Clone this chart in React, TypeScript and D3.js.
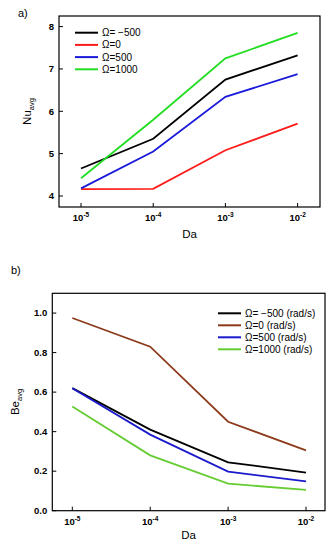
import * as d3 from 'd3';

// Darcy number exponents (10^x)
const daExponents = [-5, -4, -3, -2];

// panel a) Nu_avg
const nuTicks = [4, 5, 6, 7, 8];
const nuSeries = [
  { label: 'Ω= −500', color: '#000000', values: [4.65, 5.35, 6.75, 7.32] },
  { label: 'Ω=0', color: '#ff1a1a', values: [4.16, 4.17, 5.08, 5.71] },
  { label: 'Ω=500', color: '#1a1adb', values: [4.18, 5.05, 6.34, 6.88] },
  { label: 'Ω=1000', color: '#22dd22', values: [4.42, 5.8, 7.25, 7.85] },
];

// panel b) Be_avg
const beTicks = [0, 0.2, 0.4, 0.6, 0.8, 1.0];
const beSeries = [
  { label: 'Ω= −500 (rad/s)', color: '#000000', values: [0.62, 0.41, 0.245, 0.193] },
  { label: 'Ω=0 (rad/s)', color: '#8b3a1a', values: [0.975, 0.83, 0.45, 0.305] },
  { label: 'Ω=500 (rad/s)', color: '#1a1acc', values: [0.62, 0.385, 0.198, 0.148] },
  { label: 'Ω=1000 (rad/s)', color: '#66cc33', values: [0.527, 0.28, 0.137, 0.105] },
];

const FONT = 'Liberation Sans, Arial, sans-serif';

interface PanelProps {
  tag: string;
  tagX: number;
  tagY: number;
  left: number;
  right: number;
  top: number;
  bottom: number;
  xDomain: [number, number];
  yDomain: [number, number];
  yTicks: number[];
  yFmt: (v: number) => string;
  yName: string;
  yLabelX: number;
  series: { label: string; color: string; values: number[] }[];
  legendX: number;
  legendY: number;
  legendStep: number;
  xLabelY: number;
}

const Panel = (p: PanelProps) => {
  const x = d3.scaleLinear().domain(p.xDomain).range([p.left, p.right]);
  const y = d3.scaleLinear().domain(p.yDomain).range([p.bottom, p.top]);
  const line = d3.line<number>()
    .x((_, i) => x(daExponents[i]))
    .y(d => y(d));
  const midY = (p.top + p.bottom) / 2;

  return (
    <g fontFamily={FONT}>
      <text x={p.tagX} y={p.tagY} fontSize={11}>{p.tag}</text>

      {/* frame */}
      <rect x={p.left} y={p.top} width={p.right - p.left} height={p.bottom - p.top}
        fill="none" stroke="#000" strokeWidth={1.2} />

      {/* y ticks */}
      {p.yTicks.map(t => (
        <g key={t}>
          <line x1={p.left} x2={p.left + 4} y1={y(t)} y2={y(t)} stroke="#000" strokeWidth={1} />
          <text x={p.left - 5} y={y(t)} dy="0.35em" textAnchor="end" fontSize={9.5} fontWeight="bold">
            {p.yFmt(t)}
          </text>
        </g>
      ))}

      {/* x ticks */}
      {daExponents.map(e => (
        <g key={e}>
          <line x1={x(e)} x2={x(e)} y1={p.bottom} y2={p.bottom - 4} stroke="#000" strokeWidth={1} />
          <text x={x(e)} y={p.bottom + 14} textAnchor="middle" fontSize={9.5} fontWeight="bold">
            10<tspan fontSize={6.5} dy={-4}>{e}</tspan>
          </text>
        </g>
      ))}

      {/* axis titles */}
      <text x={(p.left + p.right) / 2} y={p.xLabelY} textAnchor="middle" fontSize={11.5}>Da</text>
      <text transform={`translate(${p.yLabelX},${midY}) rotate(-90)`} textAnchor="middle" fontSize={11.5}>
        {p.yName}<tspan fontSize={7.5} dy={3}>avg</tspan>
      </text>

      {/* series */}
      {p.series.map(s => (
        <path key={s.label} d={line(s.values) ?? ''} fill="none" stroke={s.color} strokeWidth={1.8} />
      ))}

      {/* legend */}
      {p.series.map((s, i) => (
        <g key={s.label} transform={`translate(${p.legendX},${p.legendY + i * p.legendStep})`}>
          <line x1={0} x2={23} y1={0} y2={0} stroke={s.color} strokeWidth={2} />
          <text x={27} y={0} dy="0.35em" fontSize={10}>{s.label}</text>
        </g>
      ))}
    </g>
  );
};

const App = () => {
  return (
    <svg width={334} height={550} style={{ position: 'absolute', left: 0, top: 0, background: '#fff' }}>
      <Panel
        tag="a)" tagX={18} tagY={17}
        left={59} right={320} top={16} bottom={207}
        xDomain={[-5.305, -1.69]} yDomain={[3.74, 8.25]}
        yTicks={nuTicks} yFmt={v => String(v)} yName="Nu" yLabelX={31}
        series={nuSeries}
        legendX={75} legendY={32.7} legendStep={12.2}
        xLabelY={238}
      />
      <Panel
        tag="b)" tagX={11} tagY={274}
        left={52.3} right={325} top={293.3} bottom={510.7}
        xDomain={[-5.257, -1.756]} yDomain={[0, 1.1]}
        yTicks={beTicks} yFmt={v => v.toFixed(1)} yName="Be" yLabelX={19}
        series={beSeries}
        legendX={218} legendY={313.3} legendStep={12}
        xLabelY={539}
      />
    </svg>
  );
};

export default App;
